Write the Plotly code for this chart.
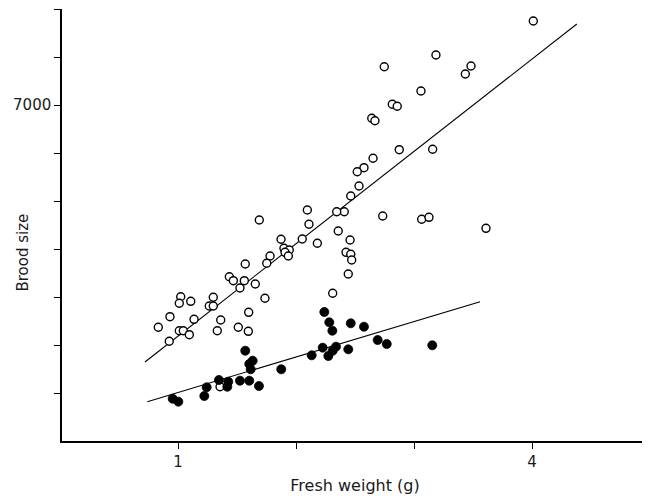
import plotly.graph_objects as go

# Open circles (one group)
open_x = [4.011, 3.186, 3.483, 3.435, 2.748, 3.059, 2.816, 2.858, 2.642, 2.669,
          2.875, 3.158, 2.653, 2.576, 2.519, 2.534, 2.464, 2.409, 2.345, 2.735,
          3.065, 3.127, 3.610, 2.096, 2.110, 2.358, 2.053, 2.181, 2.458, 1.873,
          1.898, 1.943, 1.907, 1.935, 1.780, 1.752, 2.424, 2.464, 2.472, 2.443,
          2.311, 1.737, 1.689, 1.570, 1.435, 1.469, 1.562, 1.655, 1.525, 1.023,
          1.011, 1.108, 1.299, 1.265, 1.299, 0.932, 1.136, 1.362, 1.599, 0.833,
          1.011, 1.045, 1.096, 1.333, 1.511, 1.596, 0.926, 1.356]
open_y = [8750, 8042, 7813, 7646, 7798, 7292, 7015, 6973, 6723, 6673,
          6069, 6077, 5890, 5694, 5610, 5313, 5104, 4777, 4777, 4688,
          4619, 4660, 4431, 4813, 4515, 4375, 4208, 4119, 4188, 4202,
          4015, 3979, 3931, 3854, 3854, 3702, 3931, 3890, 3771, 3479,
          3077, 2973, 4604, 3688, 3423, 3340, 3340, 3271, 3188, 3006,
          2869, 2910, 2994, 2813, 2813, 2590, 2535, 2521, 2681, 2369,
          2298, 2298, 2215, 2298, 2369, 2285, 2077, 1131]

# Filled circles (other group)
filled_x = [2.240, 2.282, 2.308, 2.464, 2.576, 2.692, 2.769, 3.155, 2.226, 2.339,
            2.311, 2.274, 2.443, 2.133, 1.570, 1.633, 1.604, 1.616, 1.875, 1.347,
            1.426, 1.418, 1.525, 1.604, 1.686, 1.243, 1.223, 0.955, 1.003]
filled_y = [2688, 2473, 2298, 2452, 2381, 2104, 2021, 1994, 1944, 1965,
            1881, 1771, 1910, 1785, 1881, 1673, 1604, 1494, 1494, 1271,
            1235, 1131, 1256, 1256, 1146, 1119, 938, 881, 819]

# Fitted lines (end points)
open_fit_x = [0.72, 4.38]
open_fit_y = [1646, 8688]
filled_fit_x = [0.74, 3.56]
filled_fit_y = [819, 2902]

x_tickvals = [1, 2, 3, 4, 5]
x_ticktext = ["1", "", "", "4", ""]
y_tickvals = [1000, 2000, 3000, 4000, 5000, 6000, 7000, 8000, 9000]
y_ticktext = ["", "", "", "", "", "", "7000", "", ""]

FONT = "DejaVu Sans"
TXT = "#1a1a1a"

fig = go.Figure()
fig.add_trace(go.Scatter(x=open_fit_x, y=open_fit_y, mode="lines",
                         line=dict(color="black", width=1.1), showlegend=False))
fig.add_trace(go.Scatter(x=filled_fit_x, y=filled_fit_y, mode="lines",
                         line=dict(color="black", width=1.1), showlegend=False))
fig.add_trace(go.Scatter(x=open_x, y=open_y, mode="markers",
                         marker=dict(symbol="circle", size=8, color="white",
                                     line=dict(color="black", width=1.4)),
                         showlegend=False))
fig.add_trace(go.Scatter(x=filled_x, y=filled_y, mode="markers",
                         marker=dict(symbol="circle", size=9, color="black",
                                     line=dict(color="black", width=0.8)),
                         showlegend=False))

# page body has an 8px margin, so figure is 8px smaller and margins shifted
fig.update_layout(
    width=642, height=488,
    margin=dict(l=54, r=2, t=1, b=55),
    plot_bgcolor="white", paper_bgcolor="white",
    font=dict(family=FONT, color=TXT, size=15),
    xaxis=dict(range=[0.017, 4.983], showgrid=False, zeroline=False,
               showline=True, linecolor="black", linewidth=1.5,
               ticks="outside", ticklen=6, tickwidth=1.2, tickcolor="black",
               tickvals=x_tickvals, ticktext=x_ticktext,
               tickfont=dict(size=15, family=FONT, color=TXT),
               title=dict(text="Fresh weight (g)",
                          font=dict(size=16, family=FONT, color=TXT),
                          standoff=10)),
    yaxis=dict(range=[0, 9000], showgrid=False, zeroline=False,
               showline=True, linecolor="black", linewidth=1.5,
               ticks="outside", ticklen=6, tickwidth=1.2, tickcolor="black",
               tickvals=y_tickvals, ticktext=y_ticktext,
               tickfont=dict(size=15, family=FONT, color=TXT)),
    annotations=[dict(text="Brood size", xref="paper", yref="paper",
                      x=-0.066, y=0.437, xanchor="center", yanchor="middle",
                      textangle=-90, showarrow=False,
                      font=dict(size=15, family=FONT, color=TXT))],
)

fig.write_html("out.html")
